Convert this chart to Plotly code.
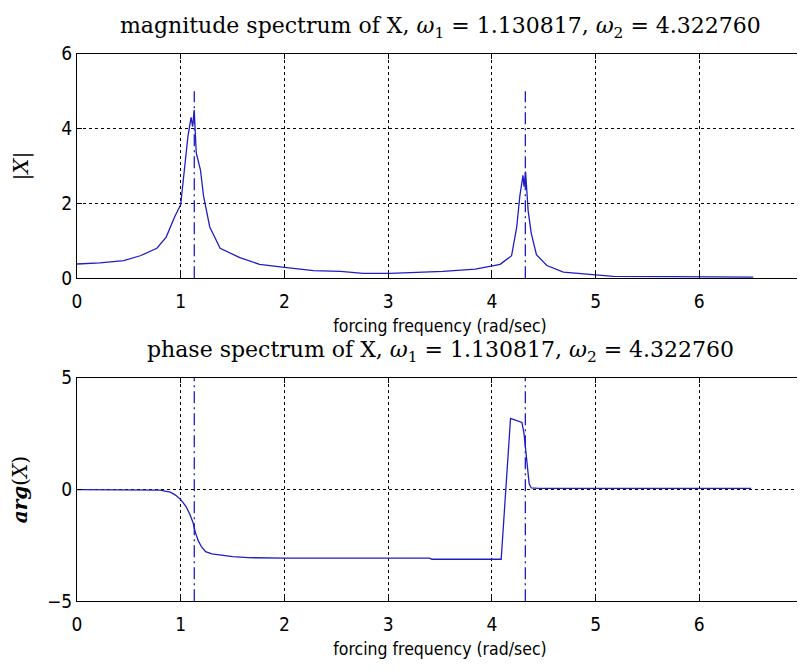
import plotly.graph_objects as go

# ---- data ----
omega1 = 1.130817
omega2 = 4.322760

mag_freq = [0.0, 0.22, 0.45, 0.61, 0.77, 0.86, 0.94, 1.0, 1.02, 1.07, 1.10, 1.115, 1.13,
            1.15, 1.19, 1.22, 1.28, 1.38, 1.57, 1.76, 2.0, 2.28, 2.54, 2.76, 3.02, 3.53,
            3.84, 3.95, 4.08, 4.19, 4.24, 4.27, 4.30, 4.31, 4.325, 4.35, 4.38, 4.43,
            4.53, 4.69, 4.88, 5.17, 5.75, 6.52]
mag_vals = [0.38, 0.41, 0.47, 0.60, 0.80, 1.10, 1.63, 1.97, 2.50, 3.80, 4.30, 4.05, 4.50,
            3.35, 2.90, 2.20, 1.37, 0.80, 0.55, 0.37, 0.29, 0.20, 0.18, 0.13, 0.13, 0.18,
            0.24, 0.30, 0.37, 0.60, 1.37, 2.20, 2.75, 2.45, 2.85, 1.80, 1.20, 0.63,
            0.34, 0.16, 0.11, 0.05, 0.04, 0.03]

ph_freq = [0.0, 0.65, 0.8, 0.9, 0.95, 1.0, 1.05, 1.09, 1.12, 1.14, 1.17, 1.2, 1.24, 1.3,
           1.4, 1.5, 1.65, 2.0, 3.4, 3.42, 4.09, 4.12, 4.15, 4.18, 4.2, 4.29, 4.31, 4.34,
           4.36, 4.38, 4.45, 6.5]
ph_vals = [0.0, 0.0, -0.03, -0.12, -0.25, -0.45, -0.75, -1.13, -1.5, -1.9, -2.3, -2.56,
           -2.78, -2.88, -2.95, -3.0, -3.05, -3.07, -3.07, -3.12, -3.12, -1.0, 1.5, 3.18,
           3.15, 3.0, 2.5, 1.2, 0.26, 0.07, 0.05, 0.05]

x_ticks = [0, 1, 2, 3, 4, 5, 6, 7]
mag_yticks = [0, 2, 4, 6]
ph_yticks = [-5, 0, 5]
mag_marker_range = [0, 5]
ph_marker_range = [-5, 5]

title_mag = "magnitude spectrum of X, <i>ω</i><sub>1</sub> = 1.130817, <i>ω</i><sub>2</sub> = 4.322760"
title_ph = "phase spectrum of X, <i>ω</i><sub>1</sub> = 1.130817, <i>ω</i><sub>2</sub> = 4.322760"
xlabel = "forcing frequency (rad/sec)"

LINE = "#1e1ec4"
SANS = "Liberation Sans Narrow, DejaVu Sans Condensed, Arial, sans-serif"
SERIF = "DejaVu Serif, Liberation Serif, serif"
DASHDOT = "12px,4px,2px,4px"

fig = go.Figure()
fig.add_trace(go.Scatter(x=mag_freq, y=mag_vals, mode="lines",
                         line=dict(color=LINE, width=1.3), xaxis="x", yaxis="y"))
for w in (omega1, omega2):
    fig.add_trace(go.Scatter(x=[w, w], y=mag_marker_range, mode="lines",
                             line=dict(color=LINE, width=1.3, dash=DASHDOT),
                             xaxis="x", yaxis="y"))
fig.add_trace(go.Scatter(x=ph_freq, y=ph_vals, mode="lines",
                         line=dict(color=LINE, width=1.3), xaxis="x2", yaxis="y2"))
for w in (omega1, omega2):
    fig.add_trace(go.Scatter(x=[w, w], y=ph_marker_range, mode="lines",
                             line=dict(color=LINE, width=1.3, dash=DASHDOT),
                             xaxis="x2", yaxis="y2"))

# page body has an 8px margin, so figure coords = window coords - 8
H = 670.0
top_dom = [1 - 268 / H, 1 - 36 / H]
bot_dom = [1 - 602 / H, 1 - 371 / H]

axis_common = dict(showline=True, linecolor="black", linewidth=1, mirror="ticks",
                   ticks="inside", ticklen=5, tickcolor="black",
                   showgrid=True, gridcolor="black", gridwidth=1, griddash="dot",
                   zeroline=False, tickfont=dict(family=SANS, size=19, color="black"))

fig.update_layout(
    width=805, height=670,
    margin=dict(l=69, r=10, t=0, b=0),
    paper_bgcolor="white", plot_bgcolor="white",
    showlegend=False,
    xaxis=dict(domain=[0, 1], range=[0, 7], tickvals=x_ticks, anchor="y", ticklabelstandoff=6,
               title=dict(text=xlabel, font=dict(family=SANS, size=17.5, color="black"), standoff=8),
               **axis_common),
    yaxis=dict(domain=top_dom, range=[0, 6], tickvals=mag_yticks, anchor="x",
               title=dict(text="|<i>X</i>|", font=dict(family=SERIF, size=21, color="black"), standoff=26),
               **axis_common),
    xaxis2=dict(domain=[0, 1], range=[0, 7], tickvals=x_ticks, anchor="y2", ticklabelstandoff=6,
                title=dict(text=xlabel, font=dict(family=SANS, size=17.5, color="black"), standoff=8),
                **axis_common),
    yaxis2=dict(domain=bot_dom, range=[-5, 5], tickvals=ph_yticks, anchor="x2",
                title=dict(text="<b><i>arg</i></b>(<i>X</i>)", font=dict(family=SERIF, size=20, color="black"), standoff=20),
                **axis_common),
    annotations=[
        dict(text=title_mag, xref="paper", yref="paper", x=0.5, y=top_dom[1], yshift=10,
             xanchor="center", yanchor="bottom", showarrow=False,
             font=dict(family=SERIF, size=22, color="black")),
        dict(text=title_ph, xref="paper", yref="paper", x=0.5, y=bot_dom[1], yshift=10,
             xanchor="center", yanchor="bottom", showarrow=False,
             font=dict(family=SERIF, size=22, color="black")),
    ],
)

fig.write_html("out.html")
